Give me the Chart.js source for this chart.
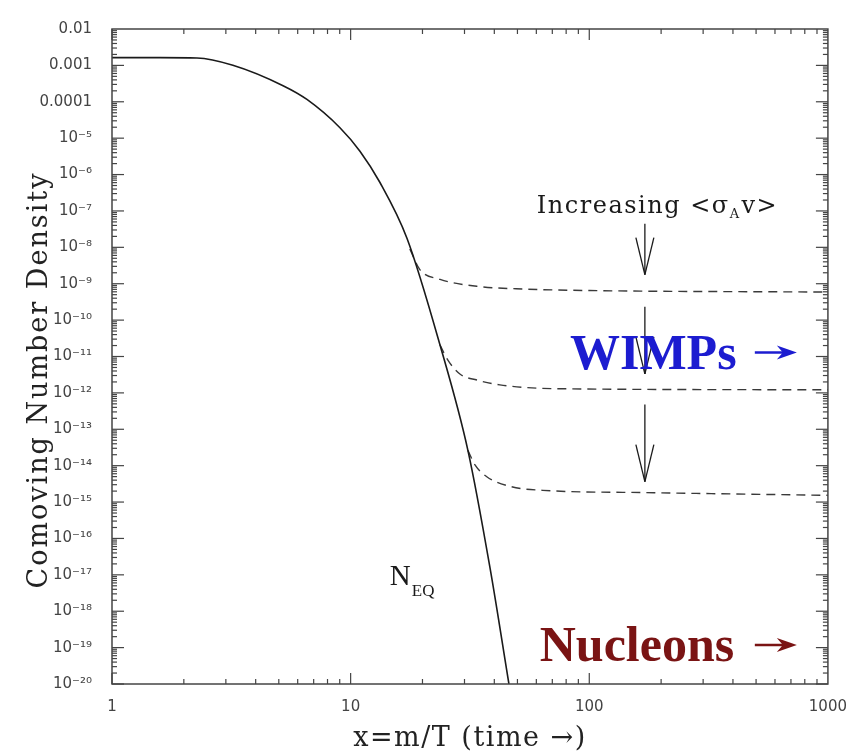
<!DOCTYPE html>
<html>
<head>
<meta charset="utf-8">
<script src="https://cdn.jsdelivr.net/npm/chart.js@4.4.1/dist/chart.umd.min.js"></script>
<style>
  html, body { margin: 0; padding: 0; background: #fff; }
  #wrap { width: 861px; height: 754px; position: relative; }
</style>
</head>
<body>
<div id="wrap"><canvas id="freezeChart"></canvas></div>
<script>
// equilibrium density N_EQ
const eqX = [1, 1.59, 2.27, 3.21, 5.21, 6.56, 9.02, 10.94, 13.27, 17.22, 23.67, 31.0, 38.36, 46.06];
const eqY = [1.63e-3, 1.63e-3, 1.6e-3, 1.01e-3, 2.77e-4, 1.16e-4, 1.94e-5, 4.38e-6, 6.05e-7, 1.78e-8, 2.1e-11, 2.64e-14, 1.57e-17, 1e-20];

// freeze-out curves, increasing <sigma v> from A to C
const wimpAX = [17.7, 19.5, 23.7, 33.8, 54.8, 100, 1000];
const wimpAY = [9e-9, 2.45e-9, 1.32e-9, 8.5e-10, 7.1e-10, 6.5e-10, 5.9e-10];
const wimpBX = [23.67, 25.6, 28.7, 33.8, 42.2, 75.3, 1000];
const wimpBY = [2.1e-11, 7.8e-12, 3.3e-12, 2.26e-12, 1.66e-12, 1.3e-12, 1.22e-12];
const wimpCX = [31.0, 33.2, 37.2, 46.5, 63.9, 170, 1000];
const wimpCY = [2.64e-14, 1.05e-14, 4.95e-15, 2.7e-15, 2.1e-15, 1.82e-15, 1.53e-15];

const xTickValues = [1, 10, 100, 1000];
const xTickLabels = ['1', '10', '100', '1000'];
const yTickValues = [1e-20, 1e-19, 1e-18, 1e-17, 1e-16, 1e-15, 1e-14, 1e-13, 1e-12, 1e-11,
                     1e-10, 1e-9, 1e-8, 1e-7, 1e-6, 1e-5, 1e-4, 1e-3, 1e-2];
const yTickLabels = ['10⁻²⁰', '10⁻¹⁹', '10⁻¹⁸', '10⁻¹⁷', '10⁻¹⁶', '10⁻¹⁵', '10⁻¹⁴', '10⁻¹³', '10⁻¹²', '10⁻¹¹',
                     '10⁻¹⁰', '10⁻⁹', '10⁻⁸', '10⁻⁷', '10⁻⁶', '10⁻⁵', '0.0001', '0.001', '0.01'];

function pts(xs, ys) {
    return xs.map((v, i) => ({ x: v, y: ys[i] }));
}

function dashed(xs, ys) {
    return {
        data: pts(xs, ys),
        borderColor: '#3a3a3a',
        borderWidth: 1.4,
        borderDash: [9, 6],
        pointRadius: 0,
        cubicInterpolationMode: 'monotone',
        fill: false
    };
}

// frame, inward ticks on all four sides, and the annotations
const framePlugin = {
    id: 'frameTicks',
    afterDatasetsDraw(chart) {
        const { ctx, chartArea: a, scales: { x, y } } = chart;
        const P = (xv, yv) => [x.getPixelForValue(xv), y.getPixelForValue(yv)];
        const line = (x1, y1, x2, y2) => {
            ctx.beginPath(); ctx.moveTo(x1, y1); ctx.lineTo(x2, y2); ctx.stroke();
        };
        ctx.save();
        ctx.strokeStyle = '#444';
        ctx.lineWidth = 1.5;
        ctx.strokeRect(a.left, a.top, a.right - a.left, a.bottom - a.top);

        ctx.lineWidth = 1.2;
        for (let d = 1; d < 1000; d *= 10) {
            for (let m = 1; m < 10; m++) {
                const px = x.getPixelForValue(d * m);
                const len = m === 1 ? 11 : 5;
                line(px, a.bottom, px, a.bottom - len);
                line(px, a.top, px, a.top + len);
            }
        }
        for (let e = -20; e < -2; e++) {
            for (let m = 1; m < 10; m++) {
                const py = y.getPixelForValue(m * Math.pow(10, e));
                const len = m === 1 ? 12 : 5;
                line(a.left, py, a.left + len, py);
                line(a.right, py, a.right - len, py);
            }
        }

        // "Increasing <sigma_A v>" with the three down arrows
        ctx.fillStyle = '#1a1a1a';
        ctx.strokeStyle = '#1a1a1a';
        ctx.textBaseline = 'alphabetic';
        ctx.textAlign = 'left';
        ctx.letterSpacing = '1.5px';
        ctx.font = '24px "DejaVu Serif"';
        let [tx, ty] = P(60.3, Math.pow(10, -7.05));
        const part1 = 'Increasing <σ';
        ctx.fillText(part1, tx, ty);
        tx += ctx.measureText(part1).width;
        ctx.font = '13px "DejaVu Serif"';
        ctx.fillText('A', tx, ty + 5);
        tx += ctx.measureText('A').width + 1;
        ctx.font = '24px "DejaVu Serif"';
        ctx.fillText('v>', tx, ty);

        ctx.lineWidth = 1.3;
        [[-7.35, -8.75], [-9.63, -11.48], [-12.32, -14.44]].forEach(([e1, e2]) => {
            const [ax, ay1] = P(171, Math.pow(10, e1));
            const ay2 = y.getPixelForValue(Math.pow(10, e2));
            line(ax, ay1, ax, ay2);
            line(ax - 9, ay2 - 37, ax, ay2);
            line(ax + 9, ay2 - 37, ax, ay2);
        });

        // coloured labels with arrows
        const bigArrow = (x1, x2, yy, color) => {
            ctx.strokeStyle = color;
            ctx.fillStyle = color;
            ctx.lineWidth = 2.5;
            line(x1, yy, x2 - 10, yy);
            ctx.beginPath();
            ctx.moveTo(x2, yy);
            ctx.lineTo(x2 - 20, yy - 7);
            ctx.lineTo(x2 - 14, yy);
            ctx.lineTo(x2 - 20, yy + 7);
            ctx.closePath();
            ctx.fill();
        };
        ctx.letterSpacing = '0px';
        ctx.font = 'bold 50px "Liberation Serif"';
        ctx.fillStyle = '#1c1cd0';
        let [wx, wy] = P(83, Math.pow(10, -11.35));
        ctx.fillText('WIMPs', wx, wy);
        let [a1x, ay] = P(494, Math.pow(10, -10.89));
        bigArrow(a1x, x.getPixelForValue(741), ay, '#1c1cd0');

        ctx.font = 'bold 50px "Liberation Serif"';
        ctx.fillStyle = '#7a1414';
        let [nx, ny] = P(62, Math.pow(10, -19.36));
        ctx.fillText('Nucleons', nx, ny);
        [a1x, ay] = P(494, Math.pow(10, -18.93));
        bigArrow(a1x, x.getPixelForValue(741), ay, '#7a1414');

        // N_EQ label
        ctx.fillStyle = '#1a1a1a';
        ctx.font = '29px "Liberation Serif"';
        let [qx, qy] = P(14.6, Math.pow(10, -17.29));
        ctx.fillText('N', qx, qy);
        qx += ctx.measureText('N').width + 1;
        ctx.font = '17px "Liberation Serif"';
        ctx.fillText('EQ', qx, qy + 11);

        // axis titles
        ctx.font = '27px "DejaVu Serif"';
        ctx.letterSpacing = '1.5px';
        ctx.fillStyle = '#222';
        ctx.textAlign = 'center';
        ctx.fillText('x=m/T (time →)', (a.left + a.right) / 2, 746);
        ctx.letterSpacing = '2px';
        ctx.translate(47, 380);
        ctx.rotate(-Math.PI / 2);
        ctx.fillText('Comoving Number Density', 0, 0);
        ctx.restore();
    }
};

const ctx = document.getElementById('freezeChart').getContext('2d');
const chart = new Chart(ctx, {
    type: 'line',
    data: {
        datasets: [
            {
                data: pts(eqX, eqY),
                borderColor: '#1a1a1a',
                borderWidth: 1.6,
                pointRadius: 0,
                cubicInterpolationMode: 'monotone',
                fill: false
            },
            dashed(wimpAX, wimpAY),
            dashed(wimpBX, wimpBY),
            dashed(wimpCX, wimpCY)
        ]
    },
    options: {
        responsive: true,
        maintainAspectRatio: false,
        animation: false,
        layout: { padding: { top: 14, right: 33, left: 0, bottom: 0 } },
        plugins: {
            legend: { display: false },
            tooltip: { enabled: false }
        },
        scales: {
            x: {
                type: 'logarithmic',
                min: 1,
                max: 1000,
                afterBuildTicks: s => { s.ticks = xTickValues.map(v => ({ value: v })); },
                afterFit: s => { s.height = 70; },
                grid: { display: false, drawTicks: false },
                border: { display: false },
                ticks: {
                    autoSkip: false,
                    maxRotation: 0,
                    padding: 14,
                    color: '#444',
                    font: { family: 'DejaVu Sans', size: 15 },
                    callback: v => xTickLabels[xTickValues.indexOf(v)]
                }
            },
            y: {
                type: 'logarithmic',
                min: 1e-20,
                max: 1e-2,
                afterBuildTicks: s => { s.ticks = yTickValues.map(v => ({ value: v })); },
                afterFit: s => { s.width = 112; },
                grid: { display: false, drawTicks: false },
                border: { display: false },
                ticks: {
                    autoSkip: false,
                    padding: 20,
                    color: '#444',
                    font: { family: 'DejaVu Sans', size: 15 },
                    callback: v => yTickLabels[yTickValues.indexOf(v)]
                }
            }
        }
    },
    plugins: [framePlugin]
});
</script>
</body>
</html>
